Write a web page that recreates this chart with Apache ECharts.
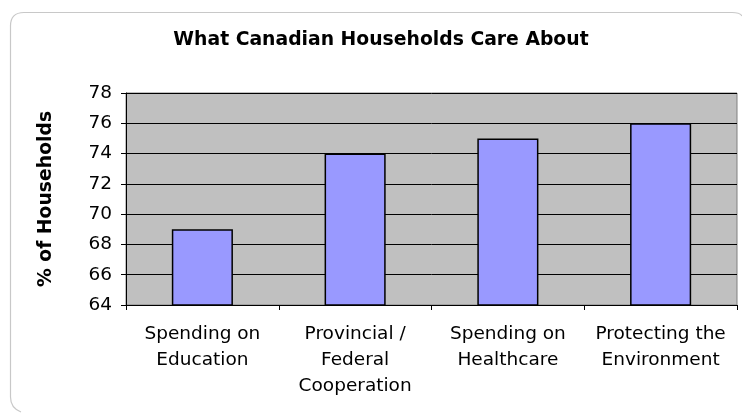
<!DOCTYPE html>
<html><head><meta charset="utf-8">
<script src="https://cdn.jsdelivr.net/npm/echarts@6/dist/echarts.min.js"></script>
<style>html,body{margin:0;padding:0;background:#fff}#c{width:742px;height:414px}</style>
</head><body><div id="c"></div>
<script>
const categories = ["Spending on\nEducation", "Provincial /\nFederal\nCooperation", "Spending on\nHealthcare", "Protecting the\nEnvironment"];
const values = [69, 74, 75, 76];
const yTicks = [64, 66, 68, 70, 72, 74, 76, 78];

const frameStyle = {fill: 'none', stroke: '#c8c8c8', lineWidth: 1.2};
const chart = echarts.init(document.getElementById('c'));
chart.setOption({
  animation: false,
  backgroundColor: '#fff',
  graphic: [
    {type: 'line', shape: {x1: 10.5, y1: 26, x2: 10.5, y2: 397}, style: frameStyle, z: -1},
    {type: 'line', shape: {x1: 24, y1: 12.5, x2: 732, y2: 12.5}, style: frameStyle, z: -1},
    {type: 'bezierCurve', shape: {x1: 10.5, y1: 26, cpx1: 10.5, cpy1: 12.5, x2: 24, y2: 12.5}, style: frameStyle, z: -1},
    {type: 'bezierCurve', shape: {x1: 732, y1: 12.5, cpx1: 740, cpy1: 12.5, x2: 742, y2: 16}, style: frameStyle, z: -1},
    {type: 'bezierCurve', shape: {x1: 10.5, y1: 397, cpx1: 10.5, cpy1: 408, x2: 21, y2: 412}, style: frameStyle, z: -1}
  ],
  title: {
    text: 'What Canadian Households Care About',
    left: 376, top: 26, textAlign: 'center',
    textStyle: {fontFamily: 'DejaVu Sans', fontWeight: 'bold', fontSize: 18.8, color: '#000'}
  },
  grid: {left: 126, right: 5, top: 93, bottom: 109, show: true, backgroundColor: '#c0c0c0', borderColor: '#808080', borderWidth: 1},
  xAxis: {
    type: 'category', data: categories,
    axisLine: {lineStyle: {color: '#000', width: 1}},
    axisTick: {show: true, length: 5, alignWithLabel: false, lineStyle: {color: '#000'}},
    axisLabel: {fontFamily: 'DejaVu Sans', fontSize: 18.5, color: '#000', lineHeight: 26, margin: 16, interval: 0}
  },
  yAxis: {
    type: 'value', min: yTicks[0], max: yTicks[yTicks.length - 1], interval: 2,
    name: '% of Households', nameLocation: 'middle', nameGap: 70, nameRotate: 90,
    nameTextStyle: {fontFamily: 'DejaVu Sans', fontWeight: 'bold', fontSize: 18.8, color: '#000'},
    axisLine: {show: true, lineStyle: {color: '#000'}},
    axisTick: {show: true, length: 5, lineStyle: {color: '#000'}},
    axisLabel: {fontFamily: 'DejaVu Sans', fontSize: 18.5, color: '#000', margin: 14},
    splitLine: {show: true, lineStyle: {color: '#000', width: 1}}
  },
  series: [{
    type: 'bar', data: values, barWidth: '40%',
    itemStyle: {color: '#9999ff', borderColor: '#000', borderWidth: 1.5}
  }]
});
</script></body></html>
